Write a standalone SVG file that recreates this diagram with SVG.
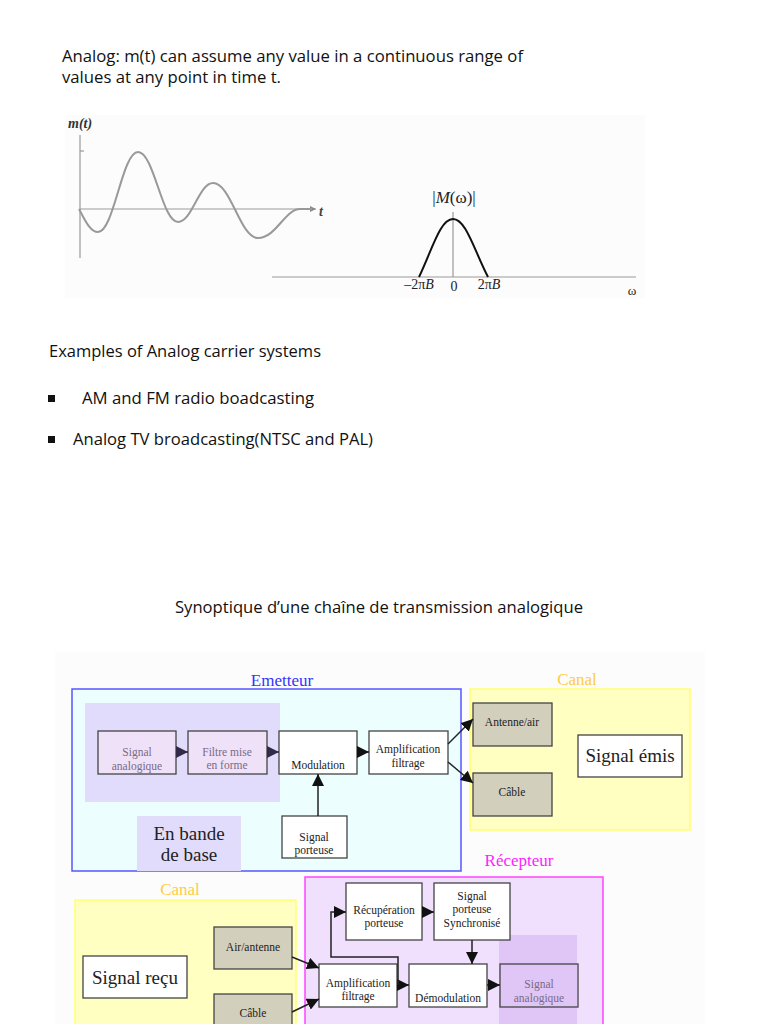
<svg xmlns="http://www.w3.org/2000/svg" width="768" height="1024" viewBox="0 0 768 1024">
<defs>
<style>
.body{font-family:"Open Sans","Liberation Sans",sans-serif;font-size:16px;fill:#111}
.ser{font-family:"Liberation Serif","DejaVu Serif",serif;fill:#222}
.sm{font-size:11.5px;text-anchor:middle}
.lg{font-size:19px;text-anchor:middle}
.box{fill:#fff;stroke:#444;stroke-width:1.3}
.gbox{fill:#d3cfbd;stroke:#444;stroke-width:1.3}
.pbox{fill:#efe2f8;stroke:#444;stroke-width:1.3}
.conn{stroke:#222;stroke-width:1.5;fill:none}
.connp{stroke:#332a48;stroke-width:1.5;fill:none}
</style>
<marker id="ah" viewBox="0 0 10 10" refX="10" refY="5" markerWidth="12" markerHeight="12" markerUnits="userSpaceOnUse" orient="auto"><path d="M0,0 L10,5 L0,10 z" fill="#111"/></marker>
<marker id="ahp" viewBox="0 0 10 10" refX="10" refY="5" markerWidth="12" markerHeight="12" markerUnits="userSpaceOnUse" orient="auto"><path d="M0,0 L10,5 L0,10 z" fill="#332a48"/></marker>
<marker id="ahs" viewBox="0 0 10 10" refX="10" refY="5" markerWidth="8" markerHeight="6" markerUnits="userSpaceOnUse" orient="auto"><path d="M0,0 L10,5 L0,10 z" fill="#888"/></marker>
</defs>
<rect width="768" height="1024" fill="#fff"/>

<!-- top text -->
<text class="body" x="62" y="62" textLength="461" lengthAdjust="spacingAndGlyphs">Analog: m(t) can assume any value in a continuous range of</text>
<text class="body" x="62" y="83" textLength="219" lengthAdjust="spacingAndGlyphs">values at any point in time t.</text>

<!-- graphs -->
<g id="time-plot">
<rect x="65" y="115" width="580" height="183" fill="#fcfcfc"/>
<text class="ser" x="68" y="128" font-size="14" font-style="italic" font-weight="bold" style="fill:#333">m(t)</text>
<line x1="80" y1="135" x2="80" y2="258" stroke="#999" stroke-width="1.2"/>
<line x1="80" y1="151" x2="84" y2="151" stroke="#999" stroke-width="1.2"/>
<line x1="80" y1="209" x2="316" y2="209" stroke="#999" stroke-width="1.2" marker-end="url(#ahs)"/>
<text class="ser" x="319" y="216" font-size="14" font-style="italic" font-weight="bold" style="fill:#444">t</text>
<path d="M79,209 C85,220 90,232 98,232 C114,232 122,152 138,152 C154,152 162,222 178,222 C192,222 199,183 213,183 C231,183 240,238 258,238 C276,238 285,209 300,209 L312,209" fill="none" stroke="#999" stroke-width="2"/>
</g>
<g id="spectrum-plot">
<line x1="272" y1="277" x2="636" y2="277" stroke="#999" stroke-width="1.2"/>
<line x1="453" y1="212" x2="453" y2="277" stroke="#999" stroke-width="1.2"/>
<path d="M419,277 C432,250 440,219 453,219 C466,219 474,250 488,277" fill="none" stroke="#111" stroke-width="2"/>
<text class="ser" x="454" y="203" font-size="17" text-anchor="middle">|<tspan font-style="italic">M</tspan>(ω)|</text>
<text class="ser" x="419" y="289" font-size="14" text-anchor="middle">–2π<tspan font-style="italic">B</tspan></text>
<text class="ser" x="454" y="291" font-size="14" text-anchor="middle">0</text>
<text class="ser" x="489" y="289" font-size="14" text-anchor="middle">2π<tspan font-style="italic">B</tspan></text>
<text class="ser" x="632" y="295" font-size="13" text-anchor="middle">ω</text>
</g>

<!-- examples -->
<text class="body" x="49" y="357" textLength="272" lengthAdjust="spacingAndGlyphs">Examples of Analog carrier systems</text>
<rect x="48" y="395" width="7" height="7" fill="#111"/>
<text class="body" x="82" y="404" textLength="232" lengthAdjust="spacingAndGlyphs">AM and FM radio boadcasting</text>
<rect x="48" y="436" width="7" height="7" fill="#111"/>
<text class="body" x="73" y="445" textLength="300" lengthAdjust="spacingAndGlyphs">Analog TV broadcasting(NTSC and PAL)</text>

<text class="body" x="175" y="613" textLength="408" lengthAdjust="spacingAndGlyphs">Synoptique d’une chaîne de transmission analogique</text>

<!-- diagram panel -->
<rect x="55" y="652" width="650" height="372" fill="#fcfcfc"/>

<g id="emetteur">
<rect x="72" y="689" width="389" height="182" fill="#ecfefe" stroke="#5555ff" stroke-width="1.5"/>
<text class="ser" x="282" y="686" font-size="17" text-anchor="middle" style="fill:#3333ff">Emetteur</text>
<rect x="85" y="703" width="195" height="99" fill="#e1dcfb"/>
<rect x="137" y="816" width="104" height="55" fill="#e1dcfb"/>
<text class="ser lg" x="189" y="840" font-size="18">En bande</text>
<text class="ser lg" x="189" y="861" font-size="18">de base</text>
</g>
<g id="canal-top">
<rect x="470" y="689" width="220" height="141" fill="#ffffc2" stroke="#ffff70" stroke-width="1.5"/>
<text class="ser" x="577" y="685" font-size="17" text-anchor="middle" style="fill:#ffcc44">Canal</text>
</g>

<g id="n-signal-analogique">
<rect class="pbox" x="98" y="731" width="78" height="43"/>
<text class="ser sm" x="137" y="756" style="fill:#7a6a86">Signal</text>
<text class="ser sm" x="137" y="770" style="fill:#7a6a86">analogique</text>
</g>
<g id="n-filtre">
<rect class="pbox" x="188" y="731" width="79" height="43"/>
<text class="ser sm" x="227" y="756" style="fill:#7a6a86">Filtre mise</text>
<text class="ser sm" x="227" y="769" style="fill:#7a6a86">en forme</text>
</g>
<g id="n-modulation">
<rect class="box" x="279" y="731" width="78" height="43"/>
<text class="ser sm" x="318" y="769">Modulation</text>
</g>
<g id="n-ampli-e">
<rect class="box" x="369" y="731" width="79" height="43"/>
<text class="ser sm" x="408" y="753">Amplification</text>
<text class="ser sm" x="408" y="767">filtrage</text>
</g>
<g id="n-porteuse">
<rect class="box" x="282" y="816" width="65" height="42"/>
<text class="ser sm" x="314" y="841">Signal</text>
<text class="ser sm" x="314" y="854">porteuse</text>
</g>
<g id="n-antenne-air">
<rect class="gbox" x="473" y="703" width="79" height="43"/>
<text class="ser sm" x="512" y="726">Antenne/air</text>
</g>
<g id="n-cable-e">
<rect class="gbox" x="473" y="773" width="79" height="43"/>
<text class="ser sm" x="512" y="796">Câble</text>
</g>
<g id="n-signal-emis">
<rect class="box" x="578" y="735" width="104" height="42"/>
<text class="ser lg" x="630" y="762">Signal émis</text>
</g>

<!-- lower -->
<g id="canal-bottom">
<rect x="75" y="900" width="221" height="130" fill="#ffffc2" stroke="#ffff70" stroke-width="1.5"/>
<text class="ser" x="180" y="895" font-size="17" text-anchor="middle" style="fill:#ffcc44">Canal</text>
</g>
<g id="recepteur">
<rect x="305" y="877" width="298" height="153" fill="#f0e0fe" stroke="#ff44ff" stroke-width="1.5"/>
<text class="ser" x="519" y="866" font-size="17" text-anchor="middle" style="fill:#ff22ff">Récepteur</text>
<rect x="499" y="935" width="78" height="95" fill="#dfc6f6"/>
</g>
<g id="n-air-antenne">
<rect class="gbox" x="214" y="927" width="78" height="42"/>
<text class="ser sm" x="253" y="951">Air/antenne</text>
</g>
<g id="n-cable-r">
<rect class="gbox" x="214" y="994" width="78" height="40"/>
<text class="ser sm" x="253" y="1017">Câble</text>
</g>
<g id="n-signal-recu">
<rect class="box" x="83" y="956" width="104" height="42"/>
<text class="ser lg" x="135" y="984">Signal reçu</text>
</g>
<g id="n-recuperation">
<rect class="box" x="346" y="883" width="76" height="57"/>
<text class="ser sm" x="384" y="914">Récupération</text>
<text class="ser sm" x="384" y="927">porteuse</text>
</g>
<g id="n-porteuse-sync">
<rect class="box" x="434" y="883" width="76" height="57"/>
<text class="ser sm" x="472" y="900">Signal</text>
<text class="ser sm" x="472" y="913">porteuse</text>
<text class="ser sm" x="472" y="927">Synchronisé</text>
</g>
<g id="n-ampli-r">
<rect class="box" x="319" y="964" width="78" height="43"/>
<text class="ser sm" x="358" y="987">Amplification</text>
<text class="ser sm" x="358" y="1000">filtrage</text>
</g>
<g id="n-demodulation">
<rect class="box" x="409" y="964" width="78" height="43"/>
<text class="ser sm" x="448" y="1002">Démodulation</text>
</g>
<g id="n-signal-analogique-r">
<rect class="box" x="500" y="964" width="78" height="43" style="fill:none"/>
<text class="ser sm" x="539" y="988" style="fill:#7a6a86">Signal</text>
<text class="ser sm" x="539" y="1002" style="fill:#7a6a86">analogique</text>
</g>

<g id="connectors">
<line class="connp" x1="176" y1="752" x2="188" y2="752" marker-end="url(#ahp)"/>
<line class="connp" x1="267" y1="752" x2="279" y2="752" marker-end="url(#ahp)"/>
<line class="conn" x1="357" y1="752" x2="369" y2="752" marker-end="url(#ah)"/>
<line class="conn" x1="318" y1="816" x2="318" y2="774" stroke-width="2.5" marker-end="url(#ah)"/>
<line class="conn" x1="448" y1="744" x2="473" y2="719" marker-end="url(#ah)"/>
<line class="conn" x1="448" y1="762" x2="473" y2="783" marker-end="url(#ah)"/>
<line class="conn" x1="292" y1="957" x2="319" y2="968" marker-end="url(#ah)"/>
<line class="conn" x1="292" y1="1012" x2="319" y2="999" marker-end="url(#ah)"/>
<line class="conn" x1="397" y1="985" x2="409" y2="985" marker-end="url(#ah)"/>
<line class="conn" x1="487" y1="985" x2="500" y2="985" marker-end="url(#ah)"/>
<line class="conn" x1="422" y1="912" x2="434" y2="912" marker-end="url(#ah)"/>
<line class="conn" x1="472" y1="940" x2="472" y2="964" marker-end="url(#ah)"/>
<path class="conn" d="M398,985 L398,957 L331,957 L331,912 L346,912" marker-end="url(#ah)"/>
</g>
</svg>
